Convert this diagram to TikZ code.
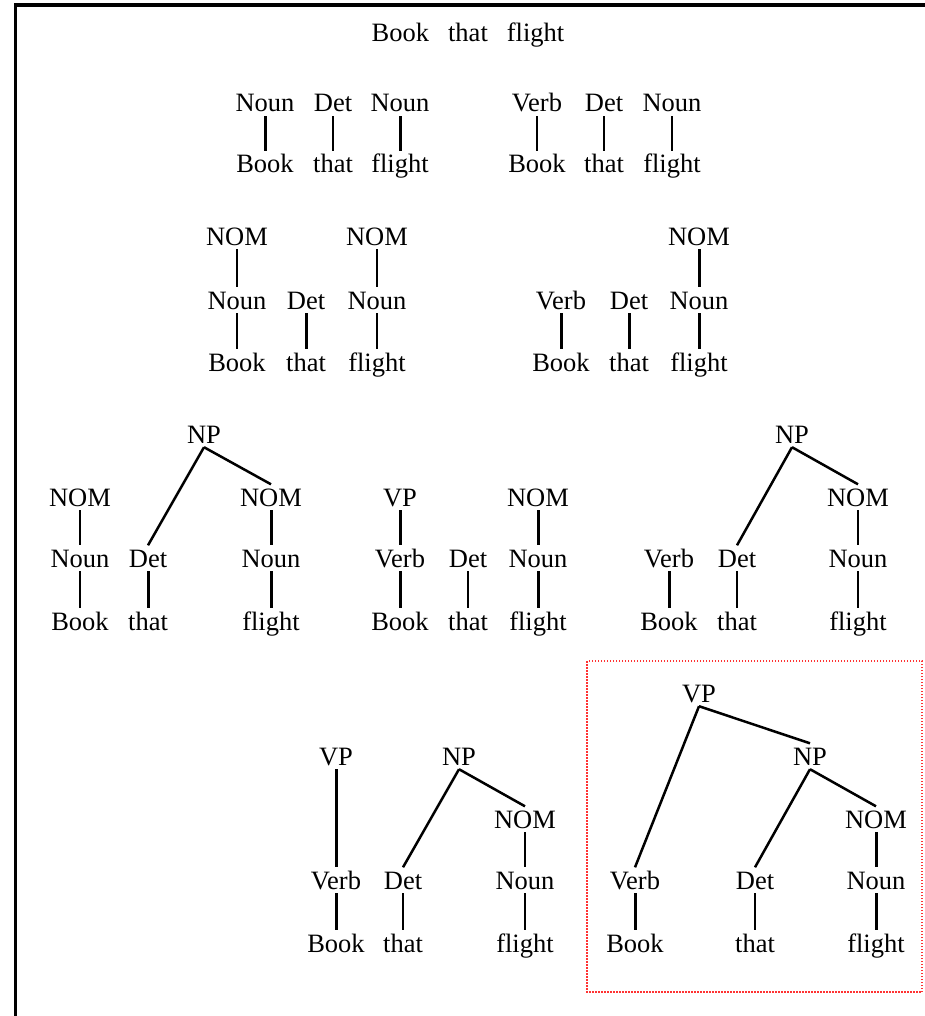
\documentclass[tikz,border=0pt]{standalone}
\usepackage{fontspec}
\setmainfont{Liberation Serif}
\newcommand{\treesize}{\fontsize{26.5}{30}\selectfont}
\tikzstyle{lbl}=[font=\treesize,inner xsep=0pt,inner ysep=4pt,anchor=base,text height=17.5pt,text depth=0pt]
\tikzstyle{thinbar}=[line width=1.4pt]
\tikzstyle{thickbar}=[line width=3pt]
\tikzstyle{slantbar}=[line width=2.5pt]
\tikzstyle{frameline}=[line width=3.3pt,black]
\tikzstyle{redbox}=[red!80,line width=1.1pt,dash pattern=on 1.5pt off 1.5pt]

\begin{document}
\begin{tikzpicture}[x=1pt,y=-1pt]
  \useasboundingbox (0,0) rectangle (925,1016);
  \draw[frameline] (14,5) -- (925,5);
  \draw[frameline] (15.7,3.5) -- (15.7,1016);
  \draw[redbox] (587,661) rectangle (922,992);

  \node[lbl] (sent) at (468,42) {Book\hspace{19pt}that\hspace{19pt}flight};

  % first row
  \node[lbl] (aNoun1) at (265,112) {Noun};
  \node[lbl] (aDet) at (333,112) {Det};
  \node[lbl] (aNoun2) at (400,112) {Noun};
  \node[lbl] (aBook) at (265,173) {Book};
  \node[lbl] (aThat) at (333,173) {that};
  \node[lbl] (aFlight) at (400,173) {flight};
  \node[lbl] (bVerb) at (537,112) {Verb};
  \node[lbl] (bDet) at (604,112) {Det};
  \node[lbl] (bNoun) at (672,112) {Noun};
  \node[lbl] (bBook) at (537,173) {Book};
  \node[lbl] (bThat) at (604,173) {that};
  \node[lbl] (bFlight) at (672,173) {flight};

  % second row
  \node[lbl] (cNOM1) at (237,245) {NOM};
  \node[lbl] (cNoun1) at (237,309) {Noun};
  \node[lbl] (cBook) at (237,371) {Book};
  \node[lbl] (cDet) at (306,309) {Det};
  \node[lbl] (cThat) at (306,371) {that};
  \node[lbl] (cNOM2) at (377,245) {NOM};
  \node[lbl] (cNoun2) at (377,309) {Noun};
  \node[lbl] (cFlight) at (377,371) {flight};
  \node[lbl] (dVerb) at (561,309) {Verb};
  \node[lbl] (dBook) at (561,371) {Book};
  \node[lbl] (dDet) at (629,309) {Det};
  \node[lbl] (dThat) at (629,371) {that};
  \node[lbl] (dNOM) at (699,245) {NOM};
  \node[lbl] (dNoun) at (699,309) {Noun};
  \node[lbl] (dFlight) at (699,371) {flight};

  % third row
  \node[lbl] (eNOM1) at (80,506) {NOM};
  \node[lbl] (eNoun1) at (80,567) {Noun};
  \node[lbl] (eBook) at (80,630) {Book};
  \node[lbl] (eDet) at (148,567) {Det};
  \node[lbl] (eThat) at (148,630) {that};
  \node[lbl] (eNP) at (204,443) {NP};
  \node[lbl] (eNOM2) at (271,506) {NOM};
  \node[lbl] (eNoun2) at (271,567) {Noun};
  \node[lbl] (eFlight) at (271,630) {flight};
  \node[lbl] (fVP) at (400,506) {VP};
  \node[lbl] (fVerb) at (400,567) {Verb};
  \node[lbl] (fBook) at (400,630) {Book};
  \node[lbl] (fDet) at (468,567) {Det};
  \node[lbl] (fThat) at (468,630) {that};
  \node[lbl] (fNOM) at (538,506) {NOM};
  \node[lbl] (fNoun) at (538,567) {Noun};
  \node[lbl] (fFlight) at (538,630) {flight};
  \node[lbl] (gVerb) at (669,567) {Verb};
  \node[lbl] (gBook) at (669,630) {Book};
  \node[lbl] (gDet) at (737,567) {Det};
  \node[lbl] (gThat) at (737,630) {that};
  \node[lbl] (gNP) at (792,443) {NP};
  \node[lbl] (gNOM) at (858,506) {NOM};
  \node[lbl] (gNoun) at (858,567) {Noun};
  \node[lbl] (gFlight) at (858,630) {flight};

  % fourth row
  \node[lbl] (hVP) at (336,765) {VP};
  \node[lbl] (hVerb) at (336,889) {Verb};
  \node[lbl] (hBook) at (336,952) {Book};
  \node[lbl] (hDet) at (403,889) {Det};
  \node[lbl] (hThat) at (403,952) {that};
  \node[lbl] (hNP) at (459,765) {NP};
  \node[lbl] (hNOM) at (525,828) {NOM};
  \node[lbl] (hNoun) at (525,889) {Noun};
  \node[lbl] (hFlight) at (525,952) {flight};
  \node[lbl] (kVP) at (699,702) {VP};
  \node[lbl] (kNP) at (810,765) {NP};
  \node[lbl] (kVerb) at (635,889) {Verb};
  \node[lbl] (kBook) at (635,952) {Book};
  \node[lbl] (kDet) at (755,889) {Det};
  \node[lbl] (kThat) at (755,952) {that};
  \node[lbl] (kNOM) at (876,828) {NOM};
  \node[lbl] (kNoun) at (876,889) {Noun};
  \node[lbl] (kFlight) at (876,952) {flight};

  \foreach \u/\v in {aNoun1/aBook,aNoun2/aFlight,cDet/cThat,dVerb/dBook,dDet/dThat,dNOM/dNoun,dNoun/dFlight,
    eDet/eThat,eNOM2/eNoun2,eNoun2/eFlight,fVP/fVerb,fVerb/fBook,fNOM/fNoun,fNoun/fFlight,gVerb/gBook,
    hVP/hVerb,hVerb/hBook,kVerb/kBook,kNOM/kNoun,kNoun/kFlight}
    \draw[thickbar] (\u) -- (\v);
  \foreach \u/\v in {aDet/aThat,bVerb/bBook,bDet/bThat,bNoun/bFlight,cNOM1/cNoun1,cNoun1/cBook,cNOM2/cNoun2,
    cNoun2/cFlight,eNOM1/eNoun1,eNoun1/eBook,fDet/fThat,gDet/gThat,gNOM/gNoun,gNoun/gFlight,
    hDet/hThat,hNOM/hNoun,hNoun/hFlight,kDet/kThat}
    \draw[thinbar] (\u) -- (\v);
  \foreach \u/\v in {eNP/eDet,eNP/eNOM2,gNP/gDet,gNP/gNOM,hNP/hDet,hNP/hNOM,kVP/kVerb,kVP/kNP,kNP/kDet,kNP/kNOM}
    \draw[slantbar] (\u.south) -- (\v.north);
\end{tikzpicture}
\end{document}
